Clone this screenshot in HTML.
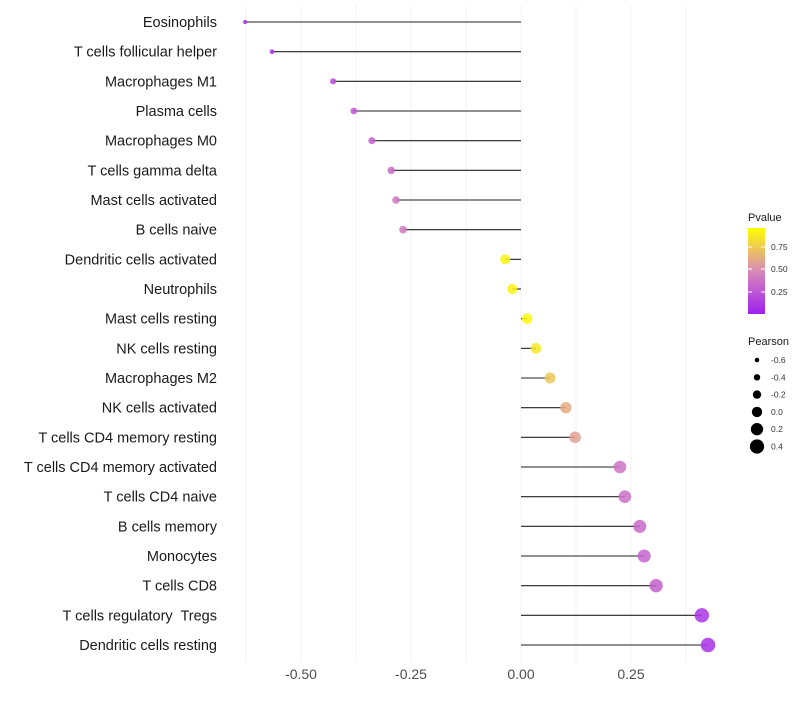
<!DOCTYPE html>
<html><head><meta charset="utf-8"><style>
body{margin:0;background:#fff;font-family:"Liberation Sans",sans-serif}
text{white-space:pre}
</style></head><body>
<svg id="chart" width="800" height="700" xmlns="http://www.w3.org/2000/svg">
<defs><linearGradient id="pg" x1="0" y1="1" x2="0" y2="0">
<stop offset="0" stop-color="#a020f0"/><stop offset="0.5" stop-color="#d88ab8"/><stop offset="1" stop-color="#ffff00"/></linearGradient></defs>
<g id="grid"></g><g id="marks"></g><g id="labels"></g><g id="legend"></g>
</svg>
<script>
const categories=["Eosinophils","T cells follicular helper","Macrophages M1","Plasma cells","Macrophages M0","T cells gamma delta","Mast cells activated","B cells naive","Dendritic cells activated","Neutrophils","Mast cells resting","NK cells resting","Macrophages M2","NK cells activated","T cells CD4 memory resting","T cells CD4 memory activated","T cells CD4 naive","B cells memory","Monocytes","T cells CD8","T cells regulatory  Tregs","Dendritic cells resting"];
const pearson=[-0.627,-0.566,-0.427,-0.38,-0.339,-0.295,-0.284,-0.268,-0.036,-0.02,0.014,0.034,0.066,0.102,0.123,0.225,0.236,0.27,0.28,0.307,0.411,0.425];
const pvalues=[0.05,0.1,0.2,0.25,0.3,0.35,0.4,0.42,0.95,0.95,0.97,0.9,0.75,0.65,0.6,0.4,0.38,0.35,0.32,0.3,0.1,0.08];
const xTicks=[-0.5,-0.25,0,0.25];
const xTickLabels=["-0.50","-0.25","0.00","0.25"];
const NS="http://www.w3.org/2000/svg";
const x=v=>521+v*440;
const y=i=>22+i*29.667;
const r=v=>2+(v+0.65)*4.9;
function col(p){
  const a=[160,32,240],m=[216,138,184],b=[255,255,0];
  let c;
  if(p<0.5){const t=p/0.5;c=a.map((v,k)=>Math.round(v+(m[k]-v)*t));}
  else{const t=(p-0.5)/0.5;c=m.map((v,k)=>Math.round(v+(b[k]-v)*t));}
  return `rgb(${c[0]},${c[1]},${c[2]})`;
}
function mk(tag,attrs,parent){const e=document.createElementNS(NS,tag);for(const k in attrs)e.setAttribute(k,attrs[k]);parent.appendChild(e);return e;}
const grid=document.getElementById('grid'),marks=document.getElementById('marks'),labels=document.getElementById('labels'),legend=document.getElementById('legend');
for(let g=-0.625;g<=0.45;g+=0.125){
  const l=mk('line',{x1:x(g),x2:x(g),y1:5,y2:662,stroke:'#f3f3f3','stroke-width':1},grid);
  
  
}
xTicks.forEach((t,i)=>{
  const tx=mk('text',{x:x(t),y:679,'text-anchor':'middle','font-size':14,fill:'#4d4d4d'},labels);
  tx.textContent=xTickLabels[i];
  
  
});
categories.forEach((c,i)=>{
  const tx=mk('text',{x:217,y:y(i)+5,'text-anchor':'end','font-size':14.5,fill:'#1a1a1a'},labels);
  tx.textContent=c;
  
  
  const ln=mk('line',{x1:x(0),x2:x(pearson[i]),y1:y(i),y2:y(i),stroke:'#222','stroke-width':1.1},marks);
  
  
  const ci=mk('circle',{cx:x(pearson[i]),cy:y(i),r:r(pearson[i]),fill:col(pvalues[i]),'fill-opacity':0.85},marks);
  
  
});
let t=mk('text',{x:748,y:221,'font-size':11,fill:'#1a1a1a'},legend);t.textContent='Pvalue';


const bar=mk('rect',{x:748,y:228,width:17,height:86,fill:'url(#pg)'},legend);


[[0.75,247],[0.5,269],[0.25,292]].forEach(([v,yy])=>{
  mk('line',{x1:748,x2:752,y1:yy,y2:yy,stroke:'#fff'},legend);mk('line',{x1:761,x2:765,y1:yy,y2:yy,stroke:'#fff'},legend);
  const tt=mk('text',{x:771,y:yy+3,'font-size':8.5,fill:'#333'},legend);tt.textContent=v.toFixed(2);
  
  
});
t=mk('text',{x:748,y:345,'font-size':11,fill:'#1a1a1a'},legend);t.textContent='Pearson';


[-0.6,-0.4,-0.2,0,0.2,0.4].forEach((v,i)=>{
  const yy=360+i*17.3;
  const c=mk('circle',{cx:757,cy:yy,r:r(v),fill:'#000'},legend);
  
  
  const tt=mk('text',{x:771,y:yy+3,'font-size':8.5,fill:'#333'},legend);tt.textContent=v.toFixed(1);
  
  
});
</script>
</body></html>
